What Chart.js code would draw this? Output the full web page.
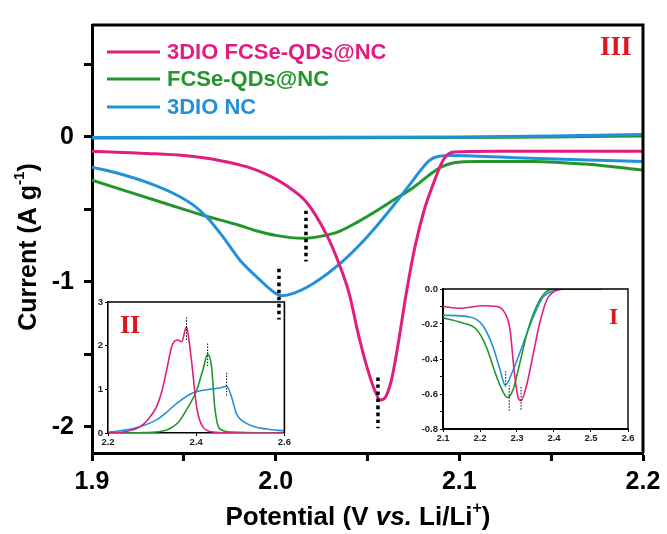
<!DOCTYPE html>
<html>
<head>
<meta charset="utf-8">
<script src="https://cdn.jsdelivr.net/npm/chart.js@4.4.0/dist/chart.umd.min.js"></script>
<style>
  html, body { margin: 0; padding: 0; background: #fff; }
  #wrap { position: relative; width: 667px; height: 534px; }
  canvas { position: absolute; }
  #main { left: 0; top: 0; }
  #insetII { left: 90px; top: 294px; }
  #insetI { left: 410px; top: 281px; }
</style>
</head>
<body>
<div id="wrap">
  <canvas id="main" width="667" height="534"></canvas>
  <canvas id="insetII" width="202" height="158"></canvas>
  <canvas id="insetI" width="226" height="168"></canvas>
</div>
<script>
// ---- main panel (III) ----
const pinkX = [1.90, 1.93, 1.95, 1.97, 1.985, 1.995, 2.005, 2.0167, 2.0279, 2.0345, 2.04, 2.045, 2.05, 2.054, 2.057, 2.06, 2.063, 2.066, 2.0715, 2.076, 2.081, 2.086, 2.09, 2.093, 2.097, 2.12, 2.16, 2.20];
const pinkY = [-0.10, -0.115, -0.13, -0.165, -0.21, -0.26, -0.33, -0.45, -0.68, -0.875, -1.08, -1.36, -1.60, -1.75, -1.815, -1.79, -1.68, -1.48, -1.05, -0.75, -0.50, -0.32, -0.19, -0.13, -0.105, -0.10, -0.10, -0.10];

const greenX = [1.90, 1.92, 1.94, 1.96, 1.98, 1.99, 2.00, 2.015, 2.025, 2.035, 2.045, 2.055, 2.065, 2.075, 2.083, 2.09, 2.097, 2.11, 2.14, 2.17, 2.20];
const greenY = [-0.30, -0.38, -0.46, -0.54, -0.61, -0.65, -0.68, -0.70, -0.685, -0.65, -0.585, -0.51, -0.43, -0.35, -0.27, -0.21, -0.18, -0.17, -0.17, -0.19, -0.23];

const blueX = [1.90, 1.915, 1.93, 1.945, 1.955, 1.963, 1.971, 1.9806, 1.9915, 1.9987, 2.0033, 2.0096, 2.0205, 2.035, 2.045, 2.055, 2.065, 2.073, 2.079, 2.084, 2.089, 2.095, 2.13, 2.17, 2.20];
const blueY = [-0.21, -0.255, -0.315, -0.395, -0.47, -0.56, -0.685, -0.851, -0.988, -1.068, -1.096, -1.08, -1.012, -0.875, -0.755, -0.615, -0.46, -0.33, -0.23, -0.16, -0.135, -0.13, -0.145, -0.16, -0.17];

// anodic branches near zero (only blue/green visible)
const upX = [1.90, 2.00, 2.10, 2.15, 2.20];
const blueUpY = [-0.005, -0.004, -0.002, 0.005, 0.016];
const greenUpY = [-0.008, -0.008, -0.006, -0.002, 0.005];

// dotted peak markers (green, blue, pink)
const peakX = [2.0165, 2.0018, 2.0557];
const peakTop = [-0.51, -0.91, -1.66];
const peakBottom = [-0.86, -1.26, -2.01];

// ---- inset II ----
const pinkIIX = [2.20, 2.24, 2.272, 2.29, 2.31, 2.322, 2.333, 2.345, 2.358, 2.367, 2.378, 2.384, 2.39, 2.401, 2.415, 2.44, 2.50, 2.60];
const pinkIIY = [0.0, 0.03, 0.14, 0.30, 0.60, 0.95, 1.44, 2.0, 2.13, 2.09, 2.43, 2.10, 1.6, 0.6, 0.14, 0.02, 0.0, 0.0];
const greenIIX = [2.20, 2.28, 2.333, 2.36, 2.378, 2.401, 2.415, 2.426, 2.435, 2.442, 2.453, 2.48, 2.60];
const greenIIY = [0.0, 0.01, 0.07, 0.25, 0.53, 0.98, 1.44, 1.80, 1.51, 0.60, 0.10, 0.02, 0.0];
const blueIIX = [2.20, 2.257, 2.31, 2.33, 2.356, 2.393, 2.431, 2.453, 2.469, 2.48, 2.491, 2.514, 2.56, 2.60];
const blueIIY = [0.02, 0.10, 0.30, 0.45, 0.68, 0.92, 1.00, 1.03, 1.07, 0.83, 0.45, 0.22, 0.09, 0.05];
const peakIIX = [2.378, 2.426, 2.469];
const peakIITop = [2.65, 2.05, 1.38];
const peakIIBottom = [2.10, 1.50, 0.85];

// ---- inset I ----
const pinkIX = [2.10, 2.146, 2.208, 2.246, 2.268, 2.281, 2.292, 2.303, 2.311, 2.327, 2.344, 2.362, 2.381, 2.405, 2.43, 2.53];
const pinkIY = [-0.10, -0.11, -0.096, -0.10, -0.14, -0.23, -0.46, -0.62, -0.638, -0.54, -0.37, -0.19, -0.06, -0.01, 0.0, 0.0];
const greenIX = [2.10, 2.146, 2.19, 2.217, 2.238, 2.256, 2.274, 2.289, 2.308, 2.33, 2.357, 2.383, 2.41, 2.53];
const greenIY = [-0.165, -0.19, -0.23, -0.33, -0.46, -0.56, -0.62, -0.577, -0.42, -0.23, -0.08, -0.01, 0.0, 0.0];
const blueIX = [2.10, 2.173, 2.208, 2.235, 2.254, 2.268, 2.29, 2.317, 2.344, 2.371, 2.40, 2.43, 2.53];
const blueIY = [-0.15, -0.16, -0.21, -0.33, -0.46, -0.55, -0.46, -0.31, -0.16, -0.045, -0.01, 0.0, 0.0];
const peakIX = [2.2694, 2.279, 2.311];
const peakITop = [-0.47, -0.55, -0.56];
const peakIBottom = [-0.56, -0.70, -0.69];

const PINK = '#E11D7E', GREEN = '#22962B', BLUE = '#2390DA', RED = '#E0161E';
const FONT = 'Arial, "Liberation Sans", sans-serif';
const SERIF = '"Times New Roman", "Liberation Serif", serif';

const pts = (xs, ys) => xs.map((x, i) => ({ x: x, y: ys[i] }));
const vline = (x, y0, y1) => [{ x: x, y: y0 }, { x: x, y: y1 }];
const isStep = (v, step) => Math.abs(v / step - Math.round(v / step)) < 1e-6;

function markers(xs, tops, bottoms, width, dash) {
    return xs.map((x, i) => ({
        data: vline(x, tops[i], bottoms[i]),
        borderColor: '#000', borderWidth: width, borderDash: dash, tension: 0
    }));
}

// draw text made of several runs (bold / italic / superscript)
function drawRuns(ctx, runs, cx, cy) {
    let total = 0;
    runs.forEach(r => { ctx.font = r.font; r.w = ctx.measureText(r.t).width; total += r.w; });
    let x = cx - total / 2;
    ctx.textAlign = 'left';
    ctx.textBaseline = 'middle';
    runs.forEach(r => {
        ctx.font = r.font;
        ctx.fillText(r.t, x, cy + (r.dy || 0));
        x += r.w;
    });
}

function framePlugin(width) {
    return {
        id: 'frame',
        afterDraw(chart) {
            const a = chart.chartArea, ctx = chart.ctx;
            ctx.save();
            ctx.strokeStyle = '#000';
            ctx.lineWidth = width;
            ctx.beginPath();
            ctx.moveTo(a.left, a.top);
            ctx.lineTo(a.right, a.top);
            ctx.lineTo(a.right, a.bottom);
            ctx.stroke();
            ctx.restore();
        }
    };
}

function labelPlugin(text, size, x, y) {
    return {
        id: 'roman',
        afterDraw(chart) {
            const ctx = chart.ctx;
            ctx.save();
            ctx.fillStyle = RED;
            ctx.font = 'bold ' + size + 'px ' + SERIF;
            ctx.textAlign = 'left';
            ctx.textBaseline = 'alphabetic';
            ctx.fillText(text, x, y);
            ctx.restore();
        }
    };
}

const mainDecor = {
    id: 'mainDecor',
    afterDraw(chart) {
        const ctx = chart.ctx;
        ctx.save();
        // legend
        const rows = [52, 79, 107];
        chart.data.datasets.filter(d => d.inLegend).forEach((d, i) => {
            ctx.strokeStyle = d.borderColor;
            ctx.lineWidth = 3;
            ctx.beginPath();
            ctx.moveTo(107, rows[i]);
            ctx.lineTo(160, rows[i]);
            ctx.stroke();
            ctx.fillStyle = d.borderColor;
            ctx.font = 'bold 22px ' + FONT;
            ctx.textAlign = 'left';
            ctx.textBaseline = 'middle';
            ctx.fillText(d.label, 167, rows[i] + 1);
        });
        // axis titles
        ctx.fillStyle = '#000';
        drawRuns(ctx, [
            { t: 'Potential (V ', font: 'bold 26px ' + FONT },
            { t: 'vs.', font: 'italic bold 26px ' + FONT },
            { t: ' Li/Li', font: 'bold 26px ' + FONT },
            { t: '+', font: 'bold 16px ' + FONT, dy: -9 },
            { t: ')', font: 'bold 26px ' + FONT }
        ], 358, 518);
        ctx.translate(29, 247);
        ctx.rotate(-Math.PI / 2);
        drawRuns(ctx, [
            { t: 'Current (A g', font: 'bold 25px ' + FONT },
            { t: '-1', font: 'bold 15px ' + FONT, dy: -9 },
            { t: ')', font: 'bold 25px ' + FONT }
        ], 0, 0);
        ctx.restore();
    }
};

new Chart(document.getElementById('main'), {
    type: 'line',
    data: {
        datasets: [
            ...markers(peakX, peakTop, peakBottom, 3.5, [3.5, 3.5]),
            { label: '3DIO FCSe-QDs@NC', data: pts(pinkX, pinkY), borderColor: PINK, inLegend: true },
            { label: 'FCSe-QDs@NC', data: pts(greenX, greenY), borderColor: GREEN, inLegend: true, order: 2 },
            { label: '3DIO NC', data: pts(blueX, blueY), borderColor: BLUE, inLegend: true, order: 1 },
            { label: '3DIO NC (anodic)', data: pts(upX, blueUpY), borderColor: BLUE, order: 1 },
            { label: 'FCSe-QDs@NC (anodic)', data: pts(upX, greenUpY), borderColor: GREEN, order: 2 }
        ]
    },
    options: {
        responsive: false,
        animation: false,
        layout: { padding: { left: 0, top: 21, right: 24, bottom: 0 } },
        datasets: { line: { pointRadius: 0, borderWidth: 3, cubicInterpolationMode: 'monotone', fill: false } },
        plugins: { legend: { display: false }, tooltip: { enabled: false } },
        scales: {
            x: {
                type: 'linear', min: 1.9, max: 2.2,
                afterFit: s => { s.height = 81; },
                border: { display: true, color: '#000', width: 3 },
                grid: { drawOnChartArea: false, drawTicks: true, tickLength: 8, tickWidth: 3, tickColor: '#000' },
                ticks: {
                    stepSize: 0.05, padding: 6, color: '#000', autoSkip: false, maxRotation: 0,
                    font: { size: 25, weight: 'bold', family: FONT },
                    callback: v => isStep(v, 0.1) ? v.toFixed(1) : ''
                }
            },
            y: {
                type: 'linear', min: -2.18, max: 0.77,
                afterFit: s => { s.width = 92; },
                border: { display: true, color: '#000', width: 3 },
                grid: { drawOnChartArea: false, drawTicks: true, tickLength: 8, tickWidth: 3, tickColor: '#000' },
                ticks: {
                    stepSize: 0.5, includeBounds: false, padding: 10, color: '#000', autoSkip: false,
                    font: { size: 25, weight: 'bold', family: FONT },
                    callback: v => isStep(v, 1) ? String(Math.round(v)) : ''
                }
            }
        }
    },
    plugins: [framePlugin(3), labelPlugin('III', 27, 600, 55), mainDecor]
});

function insetScales(xmin, xmax, xstep, xfmt, ymin, ymax, ystep, yfmt, xh, yw, axisW) {
    const tickFont = { size: 9.5, weight: 'bold', family: FONT };
    return {
        x: {
            type: 'linear', min: xmin, max: xmax,
            afterFit: s => { s.height = xh; },
            border: { display: true, color: '#000', width: axisW },
            grid: { drawOnChartArea: false, drawTicks: true, tickLength: 3, tickWidth: 1, tickColor: '#000' },
            ticks: { stepSize: xstep, padding: 1, color: '#222', autoSkip: false, maxRotation: 0, font: tickFont, callback: xfmt }
        },
        y: {
            type: 'linear', min: ymin, max: ymax,
            afterFit: s => { s.width = yw; },
            border: { display: true, color: '#000', width: axisW },
            grid: { drawOnChartArea: false, drawTicks: true, tickLength: 3, tickWidth: 1, tickColor: '#000' },
            ticks: { stepSize: ystep, padding: 2, color: '#222', autoSkip: false, font: tickFont, callback: yfmt }
        }
    };
}

// inset II
new Chart(document.getElementById('insetII'), {
    type: 'line',
    data: {
        datasets: [
            ...markers(peakIIX, peakIITop, peakIIBottom, 1, [1.5, 1.5]),
            { label: '3DIO FCSe-QDs@NC', data: pts(pinkIIX, pinkIIY), borderColor: PINK },
            { label: 'FCSe-QDs@NC', data: pts(greenIIX, greenIIY), borderColor: GREEN },
            { label: '3DIO NC', data: pts(blueIIX, blueIIY), borderColor: BLUE }
        ]
    },
    options: {
        responsive: false,
        animation: false,
        layout: { padding: { left: 0, top: 8, right: 7, bottom: 0 } },
        datasets: { line: { pointRadius: 0, borderWidth: 1.6, cubicInterpolationMode: 'monotone', fill: false } },
        plugins: { legend: { display: false }, tooltip: { enabled: false } },
        scales: insetScales(2.2, 2.6, 0.2, v => v.toFixed(1), 0, 3, 1, v => String(v), 19, 18, 1.6)
    },
    plugins: [framePlugin(1.6), labelPlugin('II', 26, 30, 39)]
});

// inset I
new Chart(document.getElementById('insetI'), {
    type: 'line',
    data: {
        datasets: [
            ...markers(peakIX, peakITop, peakIBottom, 1, [1.5, 1.5]),
            { label: '3DIO FCSe-QDs@NC', data: pts(pinkIX, pinkIY), borderColor: PINK },
            { label: 'FCSe-QDs@NC', data: pts(greenIX, greenIY), borderColor: GREEN },
            { label: '3DIO NC', data: pts(blueIX, blueIY), borderColor: BLUE }
        ]
    },
    options: {
        responsive: false,
        animation: false,
        layout: { padding: { left: 0, top: 8, right: 8, bottom: 0 } },
        datasets: { line: { pointRadius: 0, borderWidth: 1.6, cubicInterpolationMode: 'monotone', fill: false } },
        plugins: { legend: { display: false }, tooltip: { enabled: false } },
        scales: insetScales(2.1, 2.6, 0.1, v => v.toFixed(1), -0.8, 0, 0.1,
            v => isStep(v, 0.2) ? v.toFixed(1) : '', 20, 33, 2)
    },
    plugins: [framePlugin(1.4), labelPlugin('I', 24, 199, 43)]
});
</script>
</body>
</html>
